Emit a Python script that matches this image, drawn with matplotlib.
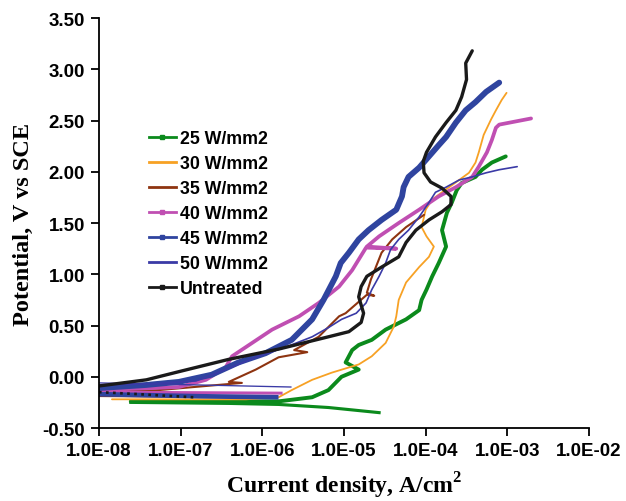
import numpy as np
import matplotlib
matplotlib.use('Agg')
import matplotlib.pyplot as plt
from matplotlib.lines import Line2D
from matplotlib.ticker import FixedLocator, FuncFormatter

plt.rcParams['font.family'] = 'Liberation Sans'
plt.rcParams['font.weight'] = 'bold'
plt.rcParams['mathtext.fontset'] = 'custom'
plt.rcParams['mathtext.rm'] = 'Liberation Serif:bold'
plt.rcParams['mathtext.bf'] = 'Liberation Serif:bold'

# polarisation data: log10 of current density (A/cm2) and potential (V vs SCE)
# anodic branches
logi_25 = [-7.61, -7.02, -5.80, -5.39, -5.19, -5.03, -4.82, -4.98, -4.90, -4.82, -4.66, -4.49,
           -4.24, -4.08, -4.05, -3.99, -3.92, -3.84, -3.75, -3.80, -3.74, -3.68, -3.62, -3.56,
           -3.39, -3.31, -3.19, -3.02]
e_25 = [-0.24, -0.24, -0.24, -0.20, -0.13, 0.00, 0.07, 0.14, 0.26, 0.31, 0.36, 0.46,
        0.56, 0.65, 0.75, 0.85, 0.98, 1.11, 1.27, 1.43, 1.60, 1.70, 1.82, 1.89,
        1.95, 2.02, 2.09, 2.15]
logi_30 = [-7.84, -7.02, -6.20, -5.80, -5.64, -5.39, -5.15, -4.82, -4.66, -4.49, -4.39, -4.36,
           -4.33, -4.24, -4.08, -3.96, -3.90, -3.99, -4.05, -4.00, -3.92, -3.80, -3.59, -3.47,
           -3.39, -3.35, -3.29, -3.20, -3.14, -3.07, -3.01]
e_30 = [-0.22, -0.22, -0.22, -0.20, -0.13, -0.03, 0.04, 0.12, 0.20, 0.33, 0.49, 0.59,
        0.75, 0.92, 1.07, 1.17, 1.27, 1.37, 1.46, 1.63, 1.73, 1.80, 1.92, 1.99,
        2.09, 2.19, 2.36, 2.51, 2.60, 2.70, 2.77]
logi_35 = [-8.00, -7.27, -6.69, -6.25, -6.41, -6.08, -5.80, -5.45, -5.61, -5.31, -5.06, -4.98,
           -4.72, -4.63, -4.72, -4.67, -4.61, -4.54, -4.41, -4.24, -4.02]
e_35 = [-0.15, -0.13, -0.09, -0.06, -0.05, 0.07, 0.19, 0.24, 0.26, 0.39, 0.59, 0.62,
        0.80, 0.79, 0.82, 0.95, 1.07, 1.21, 1.34, 1.46, 1.58]
logi_40 = [-8.00, -7.02, -6.69, -6.45, -6.37, -6.20, -5.88, -5.55, -5.31, -5.06, -4.90, -4.73,
           -4.36, -4.72, -4.57, -4.33, -4.08, -3.84, -3.63, -3.43, -3.35, -3.25, -3.19, -3.14,
           -3.10, -2.71]
e_40 = [-0.13, -0.10, -0.03, 0.09, 0.20, 0.29, 0.46, 0.59, 0.72, 0.88, 1.04, 1.26,
        1.25, 1.27, 1.37, 1.50, 1.63, 1.76, 1.85, 1.95, 2.05, 2.19, 2.31, 2.43,
        2.46, 2.52]
logi_45 = [-8.00, -7.42, -7.02, -6.62, -6.29, -5.96, -5.64, -5.39, -5.25, -5.10, -5.04, -4.94,
           -4.82, -4.70, -4.54, -4.36, -4.29, -4.27, -4.21, -4.08, -3.96, -3.84, -3.75, -3.63,
           -3.51, -3.39, -3.26, -3.10]
e_45 = [-0.11, -0.08, -0.05, 0.02, 0.14, 0.23, 0.36, 0.56, 0.75, 0.98, 1.11, 1.21,
        1.34, 1.43, 1.53, 1.63, 1.76, 1.85, 1.95, 2.04, 2.15, 2.26, 2.34, 2.48,
        2.60, 2.68, 2.78, 2.87]
logi_50 = [-8.00, -7.39, -6.81, -6.45, -6.08, -5.71, -5.39, -5.19, -5.03, -4.85, -4.73, -4.66,
           -4.57, -4.49, -4.43, -4.33, -4.21, -4.08, -3.96, -3.88, -3.75, -3.59, -3.43, -3.26,
           -3.10, -2.88]
e_50 = [-0.08, -0.07, -0.04, 0.07, 0.19, 0.29, 0.39, 0.48, 0.56, 0.62, 0.72, 0.85,
        0.98, 1.11, 1.24, 1.34, 1.43, 1.56, 1.70, 1.80, 1.85, 1.92, 1.95, 1.99,
        2.02, 2.05]
logi_un = [-8.00, -7.42, -7.02, -6.41, -5.80, -5.19, -4.94, -4.79, -4.76, -4.82, -4.79, -4.72,
           -4.54, -4.33, -4.24, -4.12, -3.96, -3.80, -3.69, -3.69, -3.80, -3.94, -4.02, -4.03,
           -3.99, -3.88, -3.75, -3.63, -3.56, -3.50, -3.51, -3.43]
e_un = [-0.09, -0.03, 0.05, 0.17, 0.27, 0.39, 0.44, 0.53, 0.62, 0.78, 0.88, 0.98,
        1.07, 1.17, 1.31, 1.43, 1.53, 1.61, 1.68, 1.76, 1.84, 1.90, 1.99, 2.10,
        2.19, 2.34, 2.48, 2.60, 2.73, 2.90, 3.06, 3.18]

# cathodic branches
logi_25c = [-7.61, -6.41, -5.80, -5.19, -4.57]
e_25c = [-0.25, -0.26, -0.27, -0.30, -0.35]
logi_35c = [-8.00, -6.41]
e_35c = [-0.19, -0.20]
logi_40c = [-8.00, -5.77]
e_40c = [-0.15, -0.16]
logi_45c = [-8.00, -6.78, -5.83]
e_45c = [-0.17, -0.19, -0.20]
logi_50c = [-8.00, -6.78, -5.65]
e_50c = [-0.06, -0.08, -0.10]
logi_unc = [-8.00, -7.51, -6.84]
e_unc = [-0.15, -0.17, -0.20]

labels = ['25 W/mm2', '30 W/mm2', '35 W/mm2', '40 W/mm2', '45 W/mm2', '50 W/mm2', 'Untreated']
colors = ['#0b8a1c', '#f7a124', '#8e3410', '#c04fb2', '#2f449f', '#3a3aa6', '#1a1a1a']
widths = [2.8, 1.3, 1.5, 2.7, 4.2, 1.2, 2.4]
has_marker = [True, False, False, True, True, False, True]

anodic = [(logi_25, e_25), (logi_30, e_30), (logi_35, e_35), (logi_40, e_40),
          (logi_45, e_45), (logi_50, e_50), (logi_un, e_un)]
cathodic = [(logi_25c, e_25c), None, (logi_35c, e_35c), (logi_40c, e_40c),
            (logi_45c, e_45c), (logi_50c, e_50c), (logi_unc, e_unc)]

fig = plt.figure(figsize=(6.26, 5.02), dpi=100)
ax = fig.add_axes([0.158, 0.1454, 0.783, 0.8167])

for i in range(len(labels)):
    li, e = anodic[i]
    ax.plot(10.0 ** np.array(li), e, color=colors[i], lw=widths[i], solid_capstyle='round')
    if cathodic[i] is not None:
        lc, ec = cathodic[i]
        ax.plot(10.0 ** np.array(lc), ec, color=colors[i], lw=widths[i] * 0.8,
                ls=':' if labels[i] == 'Untreated' else '-')

ax.set_xscale('log')
ax.set_xlim(1e-8, 1e-2)
ax.set_ylim(-0.5, 3.5)
ax.xaxis.set_major_locator(FixedLocator([1e-8, 1e-7, 1e-6, 1e-5, 1e-4, 1e-3, 1e-2]))
ax.xaxis.set_minor_locator(FixedLocator([]))
ax.xaxis.set_major_formatter(FuncFormatter(lambda v, p: f'{v:.1E}'))
ax.set_yticks(np.arange(-0.5, 3.51, 0.5))
ax.yaxis.set_major_formatter(FuncFormatter(lambda v, p: f'{v:.2f}'))

for s in ['top', 'right']:
    ax.spines[s].set_visible(False)
for s in ['left', 'bottom']:
    ax.spines[s].set_linewidth(1.3)
ax.tick_params(direction='out', length=6, width=1.3, labelsize=13.5, pad=4)
for t in ax.get_xticklabels() + ax.get_yticklabels():
    t.set_fontweight('bold')

ax.set_xlabel(r'Current density, A/cm$^2$', family='Liberation Serif', fontweight='bold',
              fontsize=17, labelpad=8)
ax.set_ylabel('Potential, V vs SCE', family='Liberation Serif', fontweight='bold',
              fontsize=17.5, labelpad=6)

handles = [Line2D([], [], color=c, lw=2, marker='s' if m else None, ms=3)
           for c, m in zip(colors, has_marker)]
ax.legend(handles, labels, loc='upper left', bbox_to_anchor=(0.102, 0.727), frameon=False,
          prop={'family': 'Liberation Sans', 'weight': 'bold', 'size': 12.8},
          handlelength=1.5, handletextpad=0.25, labelspacing=0.45, borderpad=0, borderaxespad=0)

fig.savefig('out.png', dpi=100)
